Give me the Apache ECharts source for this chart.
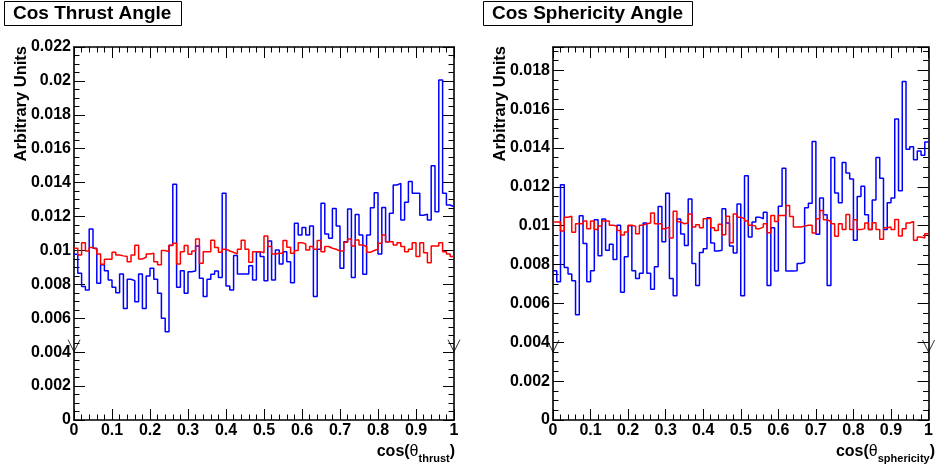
<!DOCTYPE html>
<html>
<head>
<meta charset="utf-8">
<script src="https://cdn.jsdelivr.net/npm/echarts@6/dist/echarts.min.js"></script>
<style>
html,body{margin:0;padding:0;background:#fff;}
#chart{width:936px;height:465px;}
</style>
</head>
<body>
<div id="chart"></div>
<script>
// Values in units of 1e-3 (arbitrary units), 100 bins over cos(theta) in [0,1]
var thrustBlue = [
 9.77,8.65,7.87,7.67,11.27,10.13,8.06,9.15,8.81,8.26,
 7.83,7.51,8.61,6.57,8.30,8.22,6.98,8.61,6.57,8.49,
 8.95,8.30,7.47,6.00,5.21,10.30,13.90,7.83,8.81,7.47,
 8.75,8.79,10.27,8.36,7.28,8.30,8.59,8.79,8.40,13.37,
 7.90,7.67,9.70,8.61,8.61,8.61,9.10,8.26,9.93,9.64,
 8.22,10.56,8.26,10.03,9.20,9.93,9.34,8.10,11.60,10.91,
 11.35,10.91,11.44,7.28,10.07,12.78,10.97,10.72,12.48,11.44,
 8.95,10.52,12.44,8.40,12.12,10.91,8.59,10.91,12.52,13.41,
 9.79,12.54,10.52,12.20,13.86,13.96,11.80,12.84,14.06,13.37,
 13.37,12.08,12.14,11.80,15.00,12.28,20.06,13.37,12.68,12.58
];
var thrustRed = [
 10.13,9.73,10.46,9.97,10.17,10.07,9.79,9.18,9.48,9.48,
 9.89,9.73,9.68,9.64,9.34,9.73,10.30,9.50,9.60,9.79,
 9.83,9.34,9.15,10.00,9.93,10.29,10.42,9.20,9.93,10.29,
 9.77,9.97,10.68,9.25,9.93,9.93,10.60,10.17,9.89,10.07,
 9.97,9.89,9.79,10.07,10.60,10.07,9.30,9.93,9.93,9.87,
 10.85,10.23,9.79,9.83,9.83,10.58,10.19,9.83,10.00,10.46,
 10.38,10.03,10.23,10.07,10.58,9.93,10.23,10.13,10.07,9.97,
 9.97,10.48,10.68,10.27,10.62,10.32,10.23,9.89,10.00,10.07,
 10.42,10.91,10.52,10.52,10.32,10.46,10.23,9.93,10.07,10.46,
 9.64,10.46,9.87,9.28,10.27,10.27,10.46,9.93,9.79,9.64
];
var sphericityBlue = [
 7.68,7.12,12.11,7.85,7.51,7.17,5.42,10.51,9.08,7.12,
 7.68,10.31,8.45,10.34,8.74,9.05,8.26,10.02,6.58,8.40,
 10.00,7.68,7.29,7.55,10.14,7.55,6.73,7.89,10.99,9.17,
 11.67,7.29,6.39,10.34,9.57,8.98,11.38,8.06,6.92,8.62,
 8.82,10.41,9.11,8.70,8.74,10.87,10.14,8.96,8.60,11.12,
 6.39,12.57,9.42,10.19,10.44,10.36,10.70,6.92,9.90,7.67,
 11.00,12.96,7.67,7.67,7.68,8.06,8.11,10.92,11.16,14.33,
 9.56,11.43,10.56,6.92,13.51,11.69,11.18,13.25,12.71,12.40,
 9.25,11.50,12.03,10.56,9.80,11.33,13.51,12.45,9.80,11.18,
 11.43,15.50,11.80,17.43,13.94,14.07,13.39,13.85,13.63,14.31
];
var sphericityRed = [
 10.19,10.19,9.73,10.44,10.49,9.66,10.10,10.10,10.24,9.85,
 10.24,9.80,9.98,10.24,10.24,10.02,9.98,9.76,9.52,9.68,
 10.02,9.97,9.59,10.03,10.10,10.14,10.65,10.10,10.10,9.85,
 9.93,9.37,10.75,10.20,10.10,10.14,10.61,9.93,10.05,9.90,
 10.36,10.39,9.90,9.76,10.07,9.54,10.49,9.13,10.61,10.44,
 10.36,10.24,10.02,9.98,9.85,9.93,10.10,9.64,10.53,10.22,
 10.53,10.53,11.04,10.48,9.93,9.93,9.98,10.02,10.02,9.63,
 10.36,10.78,10.31,10.22,10.10,9.46,10.10,9.81,10.58,9.81,
 10.31,9.80,9.85,10.14,9.81,10.15,9.81,9.30,9.90,9.93,
 9.81,10.32,9.47,9.85,10.14,10.22,9.25,9.42,9.37,9.59
];
var xTicks = [0,0.1,0.2,0.3,0.4,0.5,0.6,0.7,0.8,0.9,1];
var panelTitles = ['Cos Thrust Angle', 'Cos Sphericity Angle'];
var xTitleSubs = ['thrust', 'sphericity'];
var yTitle = 'Arbitrary Units';
var yMax = [0.022, 0.0192];
var arrowY = [0.00403, 0.0035];

function histo(vals) {
  var n = vals.length, out = [];
  for (var i = 0; i < n; i++) out.push([i / n, vals[i] / 1000]);
  out.push([1, vals[n - 1] / 1000]);
  return out;
}
var FONT = '"Liberation Sans", Arial, Helvetica, sans-serif';
function fmt(v) { return String(parseFloat(v.toFixed(4))); }

function xAx(gi, pos) {
  var bottom = pos === 'bottom';
  return {
    type: 'value', gridIndex: gi, position: pos, min: 0, max: 1, interval: 0.1,
    axisLine: {show: true, onZero: false, lineStyle: {color: '#000', width: 1.6}},
    axisTick: {show: true, inside: true, length: 11, lineStyle: {color: '#000', width: 1}},
    minorTick: {show: true, splitNumber: 5, length: 5.5, lineStyle: {color: '#000', width: 1}},
    splitLine: {show: false},
    axisLabel: {show: bottom, inside: false, margin: 3, color: '#000', fontFamily: FONT,
      fontWeight: 'bold', fontSize: 16, formatter: function (v) { return fmt(v); }}
  };
}
function yAx(gi, pos, max) {
  var left = pos === 'left';
  return {
    type: 'value', gridIndex: gi, position: pos, min: 0, max: max, interval: 0.002,
    axisLine: {show: true, onZero: false, lineStyle: {color: '#000', width: 1.6}},
    axisTick: {show: true, inside: true, length: 11, lineStyle: {color: '#000', width: 1}},
    minorTick: {show: true, splitNumber: 4, length: 5.5, lineStyle: {color: '#000', width: 1}},
    splitLine: {show: false},
    axisLabel: {show: left, margin: 3, color: '#000', fontFamily: FONT, fontWeight: 'bold',
      fontSize: 16, showMaxLabel: max === 0.022, formatter: function (v) { return fmt(v); }}
  };
}

var series = [];
[[thrustBlue, thrustRed], [sphericityBlue, sphericityRed]].forEach(function (pair, gi) {
  series.push({type: 'line', xAxisIndex: gi * 2, yAxisIndex: gi * 2, data: histo(pair[0]),
    step: 'end', showSymbol: false, symbol: 'none', lineStyle: {color: '#0000ff', width: 1.5}, z: 3});
  series.push({type: 'line', xAxisIndex: gi * 2, yAxisIndex: gi * 2, data: histo(pair[1]),
    step: 'end', showSymbol: false, symbol: 'none', lineStyle: {color: '#ff0000', width: 1.5}, z: 4});
  series.push({type: 'scatter', xAxisIndex: gi * 2, yAxisIndex: gi * 2, clip: false,
    data: [[0, arrowY[gi]], [1, arrowY[gi]]],
    symbol: 'path://M0,0 L6,12 L12,0', symbolSize: [12, 12], symbolOffset: [0, -6],
    itemStyle: {color: 'rgba(0,0,0,0)', borderColor: '#000', borderWidth: 1}, z: 5});
});

var titleBoxes = [{left: 4}, {left: 483}];
var option = {
  animation: false,
  backgroundColor: '#fff',
  title: panelTitles.map(function (t, i) {
    return {text: t, left: titleBoxes[i].left, top: 1, padding: [3, 10, 3, 9],
      borderColor: '#000', borderWidth: 1,
      textStyle: {fontFamily: FONT, fontWeight: 'bold', fontSize: 19, color: '#000', lineHeight: 19}};
  }),
  grid: [
    {left: 74, right: 482, top: 47, bottom: 45},
    {left: 553, right: 2, top: 47, bottom: 45}
  ],
  xAxis: [xAx(0, 'bottom'), xAx(0, 'top'), xAx(1, 'bottom'), xAx(1, 'top')],
  yAxis: [yAx(0, 'left', yMax[0]), yAx(0, 'right', yMax[0]), yAx(1, 'left', yMax[1]), yAx(1, 'right', yMax[1])],
  series: series,
  graphic: [
    {type: 'text', x: 21, y: 46, rotation: Math.PI / 2,
      style: {text: yTitle, fill: '#000', font: 'bold 16.5px ' + FONT, align: 'right', verticalAlign: 'middle'}},
    {type: 'text', x: 500, y: 46, rotation: Math.PI / 2,
      style: {text: yTitle, fill: '#000', font: 'bold 16.5px ' + FONT, align: 'right', verticalAlign: 'middle'}},
    {type: 'text', x: 455, y: 444,
      style: {text: '{a|cos(}{t|θ}{s|' + xTitleSubs[0] + '}{a|)}', align: 'right', verticalAlign: 'top',
        rich: {a: {font: 'bold 16px ' + FONT, fill: '#000', verticalAlign: 'top'},
               t: {font: '16px ' + FONT, fill: '#000', verticalAlign: 'top'},
               s: {font: 'bold 11px ' + FONT, fill: '#000', padding: [9, 0, 0, 0], verticalAlign: 'top'}}}},
    {type: 'text', x: 935, y: 444,
      style: {text: '{a|cos(}{t|θ}{s|' + xTitleSubs[1] + '}{a|)}', align: 'right', verticalAlign: 'top',
        rich: {a: {font: 'bold 16px ' + FONT, fill: '#000', verticalAlign: 'top'},
               t: {font: '16px ' + FONT, fill: '#000', verticalAlign: 'top'},
               s: {font: 'bold 11px ' + FONT, fill: '#000', padding: [9, 0, 0, 0], verticalAlign: 'top'}}}}
  ]
};
var chart = echarts.init(document.getElementById('chart'), null, {renderer: 'canvas'});
chart.setOption(option);
</script>
</body>
</html>
